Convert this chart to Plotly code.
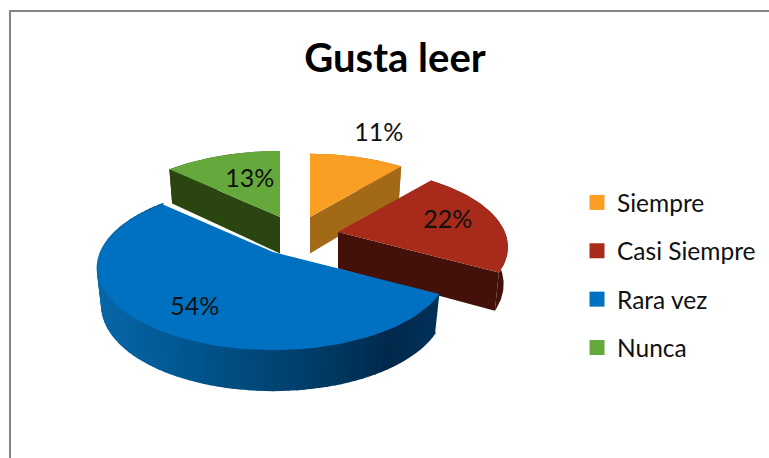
import numpy as np
import plotly.graph_objects as go

categories = ["Siempre", "Casi Siempre", "Rara vez", "Nunca"]
values = [11, 22, 54, 13]
labels = ["11%", "22%", "54%", "13%"]

top_colors = ["#FB9F24", "#A72A1B", "#0070C0", "#65A83C"]
wall_colors = ["#A26A17", "#43100A", "#00345C", "#2B4511"]
apex_x = [310, 338, 273, 280]
apex_y = [217, 232, 252, 217]
slice_scale = [0.95, 0.97, 1.0, 1.0]
label_radius = [1.5, 0.66, 0.72, 0.55]
label_nudge_x = [3, 4, 4, 4]
label_nudge_y = [2, -1, 5, 0]
B, A, K = 172.0, 79.0, 0.195
W, H = 769, 458

total = sum(values)
edges = np.cumsum([0] + values) / total * 2 * np.pi


def rim(i, theta, r=1.0):
    r = r * slice_scale[i]
    u, v = r * np.sin(theta), r * np.cos(theta)
    d = 1 + K * v
    return apex_x[i] + B * u / d, apex_y[i] - A * v / d


def lower(i, x, y, theta):
    v = np.cos(theta)
    return apex_x[i] + (x - apex_x[i]) * 0.975, y + 36.5 - 3.5 * v


def poly(xs, ys, color):
    return go.Scatter(x=list(xs), y=list(ys), mode="lines", fill="toself",
                      fillcolor=color, line=dict(width=0), hoverinfo="skip",
                      showlegend=False)


fig = go.Figure()


def blue_shade(px):
    stops_x = [95, 200, 300, 390, 437]
    r = [8, 2, 0, 0, 0]
    g = [104, 84, 64, 42, 50]
    b = [170, 140, 108, 76, 90]
    return "rgb(%d,%d,%d)" % (np.interp(px, stops_x, r), np.interp(px, stops_x, g), np.interp(px, stops_x, b))


for i in [3, 0, 1, 2]:
    a0, a1 = edges[i], edges[i + 1]
    ts = np.linspace(a0, a1, 90)
    x, y = rim(i, ts)
    lx, ly = lower(i, x, y, ts)
    ax, ay = apex_x[i], apex_y[i]
    adx, ady = lower(i, ax, ay, np.pi / 2)
    if i == 2:
        # outer wall of the large slice, shaded in strips
        for j in range(len(ts) - 1):
            xs = [x[j], x[j + 1], lx[j + 1], lx[j]]
            ys = [y[j], y[j + 1], ly[j + 1], ly[j]]
            c = blue_shade(np.mean(xs))
            fig.add_trace(poly(xs, ys, c))
            fig.data[-1].line = dict(width=2, color=c)
    else:
        # outer wall
        fig.add_trace(poly(list(x) + list(lx[::-1]), list(y) + list(ly[::-1]), wall_colors[i]))
        # cut faces
        edge = 0 if i == 3 else -1
        fig.add_trace(poly([ax, x[edge], lx[edge], adx], [ay, y[edge], ly[edge], ady], wall_colors[i]))
    # top surface
    fig.add_trace(poly([ax] + list(x), [ay] + list(y), top_colors[i]))

mids = (edges[:-1] + edges[1:]) / 2
tx, ty = zip(*[rim(i, mids[i], label_radius[i]) for i in range(4)])
tx = [a + b for a, b in zip(tx, label_nudge_x)]
ty = [a + b for a, b in zip(ty, label_nudge_y)]
fig.add_trace(go.Scatter(x=tx, y=ty, mode="text", text=labels, hoverinfo="skip", showlegend=False,
                         textposition="middle center",
                         textfont=dict(family="Lato", size=25, color="#111111")))

for c, col in zip(categories, top_colors):
    fig.add_trace(go.Scatter(x=[None], y=[None], mode="markers", name=c, legendgroup=c,
                             marker=dict(symbol="square", size=15, color=col)))

fig.update_layout(
    width=W, height=H, margin=dict(l=0, r=0, t=0, b=0),
    paper_bgcolor="white", plot_bgcolor="white",
    title=dict(text="<b>Gusta leer</b>", x=395 / W, xanchor="center", xref="paper",
               y=1 - 58 / H, yanchor="middle", yref="container",
               font=dict(family="Lato", size=40, color="black")),
    xaxis=dict(range=[0, W], visible=False, fixedrange=True),
    yaxis=dict(range=[H, 0], visible=False, fixedrange=True),
    legend=dict(x=577 / W, y=1 - 180 / H, xanchor="left", yanchor="top",
                font=dict(family="Lato", size=24.5, color="#111111"),
                tracegroupgap=13.5, bgcolor="rgba(0,0,0,0)", itemsizing="trace"),
    shapes=[dict(type="path", path="M 10 %d L 10 11 L %d 11" % (H + 5, W + 5), xref="x", yref="y",
                 line=dict(color="#868686", width=2))],
)
fig.write_html("out.html", post_script="document.body.style.margin='0';document.body.style.overflow='hidden';",
               config=dict(displayModeBar=False))
